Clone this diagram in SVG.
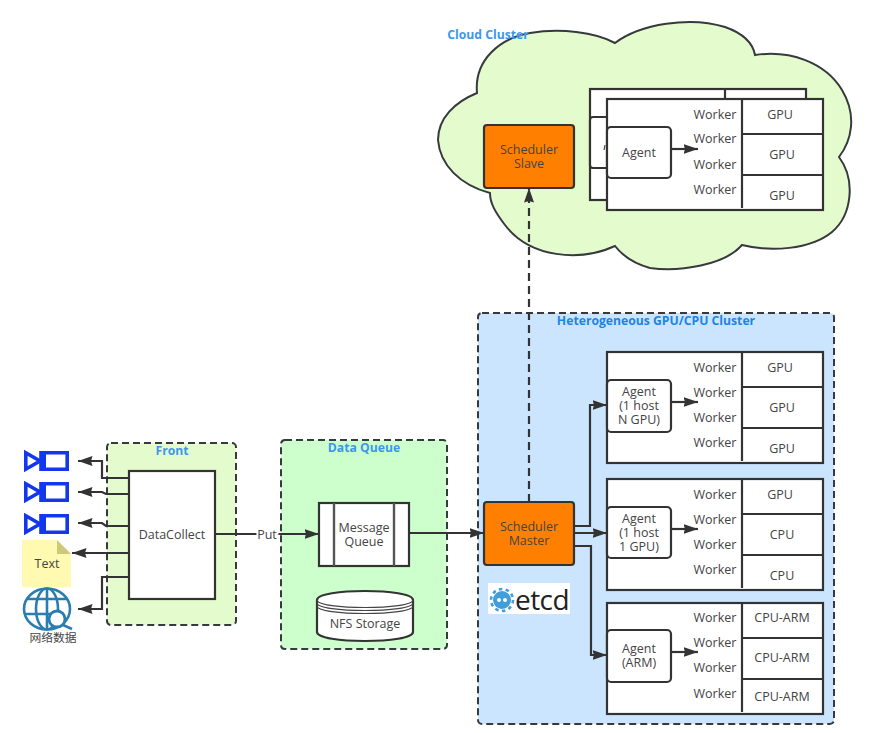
<svg xmlns="http://www.w3.org/2000/svg" width="884" height="733" viewBox="0 0 884 733">
<style>
text{font-family:"Open Sans","Noto Sans","Noto Sans CJK SC",sans-serif;font-size:12.5px;fill:#444;text-anchor:middle}
.title{font-weight:700;fill:#3d97ee;font-size:12.2px}
.group{stroke:#36393d;stroke-width:2;stroke-dasharray:7 4}
.box{fill:#fff;stroke:#333;stroke-width:2.2}
.hard{fill:#ff8000;stroke:#333;stroke-width:2.2}
.line{fill:none;stroke:#333;stroke-width:2.2}
.cam{fill:#fff;stroke:#1237ee;stroke-width:3.6}
.globe{fill:none;stroke:#2a7db0;stroke-width:2.6}
</style>
<defs>
<marker id="arrow" markerUnits="userSpaceOnUse" markerWidth="15" markerHeight="11" refX="14.5" refY="5.5" orient="auto"><path d="M0 .5L14.5 5.5L0 10.5L1.5 5.5Z" fill="#333"/></marker>
<g id="camera-shape">
<path class="cam" d="M25.8 452.8L40 461L25.8 469.2Z"/>
<path class="cam" d="M41 452.8H67.2V469.2H41Z"/>
<path d="M41 453H46V469H41Z" fill="#1237ee"/>
</g>
</defs>
<rect width="884" height="733" fill="#fff"/>

<g id="cloud-cluster">
<path d="M615 43C640 24 690 16 725 27C745 34 753 44 755 55C790 50 825 62 842 90C857 115 852 140 839 157C856 180 852 215 832 232C810 250 770 252 742 245C725 265 680 272 650 268C632 263 622 255 615 246C580 262 530 258 505 225C495 212 490 203 490 193C460 185 440 165 438 140C438 118 455 102 477 93C474 60 500 38 530 33C560 28 595 32 615 43Z" fill="#e3fbcd" stroke="#36393d" stroke-width="2"/>
<text class="title" x="488" y="39">Cloud Cluster</text>
</g>
<g id="front">
<rect class="group" x="107" y="443" width="129" height="182" rx="4" fill="#e3fbcd"/>
<text class="title" x="172" y="455">Front</text>
</g>
<g id="data-queue">
<rect class="group" x="281" y="440" width="166" height="209" rx="4" fill="#ccffcc"/>
<text class="title" x="364" y="452">Data Queue</text>
</g>
<g id="hetero-cluster">
<rect class="group" x="478" y="313" width="356" height="411" rx="4" fill="#cce5ff"/>
<text class="title" x="656" y="325" style="fill:#1a85e8">Heterogeneous GPU/CPU Cluster</text>
</g>

<g id="scheduler-slave">
<rect class="hard" x="484" y="125" width="90" height="63" rx="3"/>
<text y="154"><tspan x="529">Scheduler</tspan><tspan x="529" dy="14">Slave</tspan></text>
</g>
<g id="cloud-host-back">
<rect class="box" x="590" y="89" width="216" height="111"/>
<path class="line" d="M725 89V100"/>
<rect class="box" x="590" y="117" width="20" height="51" rx="3"/>
<path d="M605 145L604 150" fill="none" stroke="#444" stroke-width="1.2"/>
</g>
<g id="cloud-host">
<rect class="box" x="607" y="99" width="216" height="111"/>
<path class="line" d="M742 99V208M742 134H823M742 175H823"/>
<rect class="box" x="607" y="127" width="64" height="51" rx="4"/>
<text x="639" y="157">Agent</text>
<path class="line" d="M672 149H698" marker-end="url(#arrow)"/>
<text x="715" y="119">Worker</text><text x="715" y="143">Worker</text><text x="715" y="169">Worker</text><text x="715" y="194">Worker</text>
<text x="780" y="119">GPU</text><text x="782" y="159">GPU</text><text x="782" y="200">GPU</text>
</g>

<g id="host-n-gpu">
<rect class="box" x="607" y="352" width="216" height="111"/>
<path class="line" d="M742 352V461M742 387H823M742 428H823"/>
<rect class="box" x="607" y="380" width="64" height="52" rx="4"/>
<text y="396"><tspan x="639">Agent</tspan><tspan x="639" dy="14">(1 host</tspan><tspan x="639" dy="14">N GPU)</tspan></text>
<path class="line" d="M672 402H698" marker-end="url(#arrow)"/>
<text x="715" y="372">Worker</text><text x="715" y="397">Worker</text><text x="715" y="422">Worker</text><text x="715" y="447">Worker</text>
<text x="780" y="372">GPU</text><text x="782" y="412">GPU</text><text x="782" y="453">GPU</text>
</g>
<g id="host-1-gpu">
<rect class="box" x="607" y="479" width="216" height="111"/>
<path class="line" d="M742 479V588M742 514H823M742 555H823"/>
<rect class="box" x="607" y="507" width="64" height="51" rx="4"/>
<text y="523"><tspan x="639">Agent</tspan><tspan x="639" dy="14">(1 host</tspan><tspan x="639" dy="14">1 GPU)</tspan></text>
<path class="line" d="M672 529H698" marker-end="url(#arrow)"/>
<text x="715" y="499">Worker</text><text x="715" y="524">Worker</text><text x="715" y="549">Worker</text><text x="715" y="574">Worker</text>
<text x="780" y="499">GPU</text><text x="782" y="539">CPU</text><text x="782" y="580">CPU</text>
</g>
<g id="host-arm">
<rect class="box" x="607" y="603" width="216" height="111"/>
<path class="line" d="M742 603V712M742 638H823M742 679H823"/>
<rect class="box" x="607" y="630" width="64" height="52" rx="4"/>
<text y="653"><tspan x="639">Agent</tspan><tspan x="639" dy="14">(ARM)</tspan></text>
<path class="line" d="M672 652H698" marker-end="url(#arrow)"/>
<text x="715" y="622">Worker</text><text x="715" y="647">Worker</text><text x="715" y="672">Worker</text><text x="715" y="698">Worker</text>
<text x="782" y="622">CPU-ARM</text><text x="782" y="662">CPU-ARM</text><text x="782" y="701">CPU-ARM</text>
</g>

<g id="scheduler-master">
<rect class="hard" x="484" y="502" width="90" height="63" rx="3"/>
<text y="531"><tspan x="529">Scheduler</tspan><tspan x="529" dy="14">Master</tspan></text>
</g>
<g id="etcd">
<rect x="488" y="583" width="82" height="31" fill="#fff"/>
<circle cx="502" cy="600" r="9" fill="#419eda"/>
<circle cx="502" cy="600" r="11" fill="none" stroke="#419eda" stroke-width="2.6" stroke-dasharray="3.5 3.4"/>
<circle cx="499" cy="600" r="2" fill="#fff"/><circle cx="505" cy="600" r="2" fill="#fff"/>
<text x="542" y="610" style="font-size:28px;fill:#222;letter-spacing:-0.6px">etcd</text>
</g>

<g id="datacollect">
<rect class="box" x="129" y="471" width="86" height="128"/>
<text x="172" y="539">DataCollect</text>
</g>
<g id="message-queue">
<rect class="box" x="319" y="503" width="90" height="63"/>
<path d="M334 503V566M394 503V566" fill="none" stroke="#555" stroke-width="2.4"/>
<text y="532"><tspan x="364">Message</tspan><tspan x="364" dy="14">Queue</tspan></text>
</g>
<g id="nfs-storage">
<path class="box" d="M317 600C317 588 413 588 413 600V632C413 644 317 644 317 632Z"/>
<path d="M317 600C317 610 413 610 413 600M317 603C317 613 413 613 413 603M317 606C317 616 413 616 413 606" fill="none" stroke="#444" stroke-width="1.2"/>
<text x="365" y="628">NFS Storage</text>
</g>

<g id="camera-1"><use href="#camera-shape"/></g>
<g id="camera-2"><use href="#camera-shape" y="31"/></g>
<g id="camera-3"><use href="#camera-shape" y="63"/></g>
<g id="text-note">
<path d="M22 540H57L71 554V587H22Z" fill="#fff9b2"/>
<path d="M57 540L71 554H57Z" fill="#cfc77a"/>
<text x="47" y="568">Text</text>
</g>
<g id="web-data">
<ellipse class="globe" cx="47" cy="609" rx="23" ry="20.5"/>
<ellipse class="globe" cx="47" cy="609" rx="11" ry="20.5"/>
<path class="globe" d="M47 589V629M28 599H66M25 614H50"/>
<circle cx="57" cy="619" r="8" fill="#fff" stroke="#2a7db0" stroke-width="2.8"/>
<path class="globe" d="M63 625L72 629" stroke-width="3"/>
<text x="53" y="642" style="font-size:11.8px">网络数据</text>
</g>

<g id="connectors">
<path class="line" d="M129 478H102V461H78" marker-end="url(#arrow)"/>
<path class="line" d="M129 494H106L102 492H78" marker-end="url(#arrow)"/>
<path class="line" d="M129 526H106L102 523H78" marker-end="url(#arrow)"/>
<path class="line" d="M129 553H72" marker-end="url(#arrow)"/>
<path class="line" d="M129 577H102V609H78" marker-end="url(#arrow)"/>
<path class="line" d="M215 534H319" marker-end="url(#arrow)"/>
<path class="line" d="M409 533H484" marker-end="url(#arrow)"/>
<path class="line" d="M529 502V188" stroke-dasharray="8 5" marker-end="url(#arrow)"/>
<path class="line" d="M574 526H590V405H607" marker-end="url(#arrow)"/>
<path class="line" d="M574 533H607" marker-end="url(#arrow)"/>
<path class="line" d="M574 546H591V655H607" marker-end="url(#arrow)"/>
<text x="267" y="539" style="paint-order:stroke;stroke:#fff;stroke-width:4px">Put</text>
</g>
</svg>
